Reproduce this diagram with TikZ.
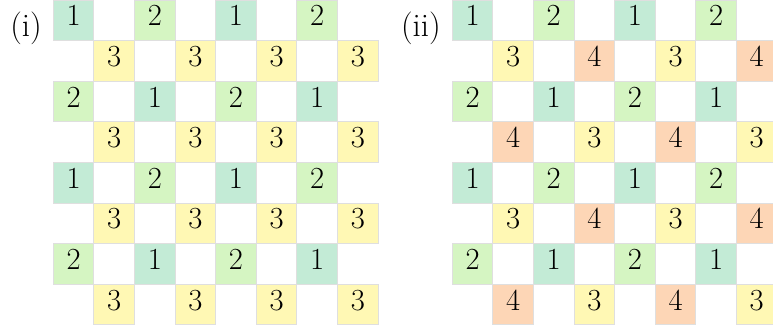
\documentclass[tikz,border=0pt]{standalone}
\usetikzlibrary{positioning}

\definecolor{hue1}{HTML}{C3EBD6}
\definecolor{hue2}{HTML}{D5F5C2}
\definecolor{hue3}{HTML}{FFF8B4}
\definecolor{hue4}{HTML}{FDD6B6}

\begin{document}
\begin{tikzpicture}[
  x=1cm, y=-1cm,
  every node/.style={font=\fontsize{21.5}{26}\selectfont},
  cell/.style={draw=gray!25, line width=0.6pt, minimum size=1cm, inner sep=0pt,
    text height=0.78em, text depth=0pt},
  tag/.style={font=\fontsize{23}{28}\selectfont, inner sep=0.333em}
]
\useasboundingbox (0,0) rectangle (19.04,8.10);

% grid (i)
\foreach \r in {0,2,4,6} {
  \foreach \c in {0,2,4,6} {
    \pgfmathtruncatemacro\v{1+mod((\r+\c)/2,2)}
    \node[cell, fill=hue\v] (a-\r-\c) at (1.813+\c,0.5+\r) {\v};
  }
}
\foreach \r in {1,3,5,7} {
  \foreach \c in {1,3,5,7} {
    \node[cell, fill=hue3] (a-\r-\c) at (1.813+\c,0.5+\r) {3};
  }
}
\node[tag, left=0.15cm of a-0-0, yshift=-0.2cm] (labi) {(i)};

% grid (ii)
\foreach \r in {0,2,4,6} {
  \foreach \c in {0,2,4,6} {
    \pgfmathtruncatemacro\v{1+mod((\r+\c)/2,2)}
    \node[cell, fill=hue\v] (b-\r-\c) at (11.64+\c,0.5+\r) {\v};
  }
}
\foreach \r in {1,3,5,7} {
  \foreach \c in {1,3,5,7} {
    \pgfmathtruncatemacro\w{3+mod((\r+\c-2)/2,2)}
    \node[cell, fill=hue\w] (b-\r-\c) at (11.64+\c,0.5+\r) {\w};
  }
}
\node[tag, left=0.15cm of b-0-0, yshift=-0.2cm] (labii) {(ii)};
\end{tikzpicture}
\end{document}
